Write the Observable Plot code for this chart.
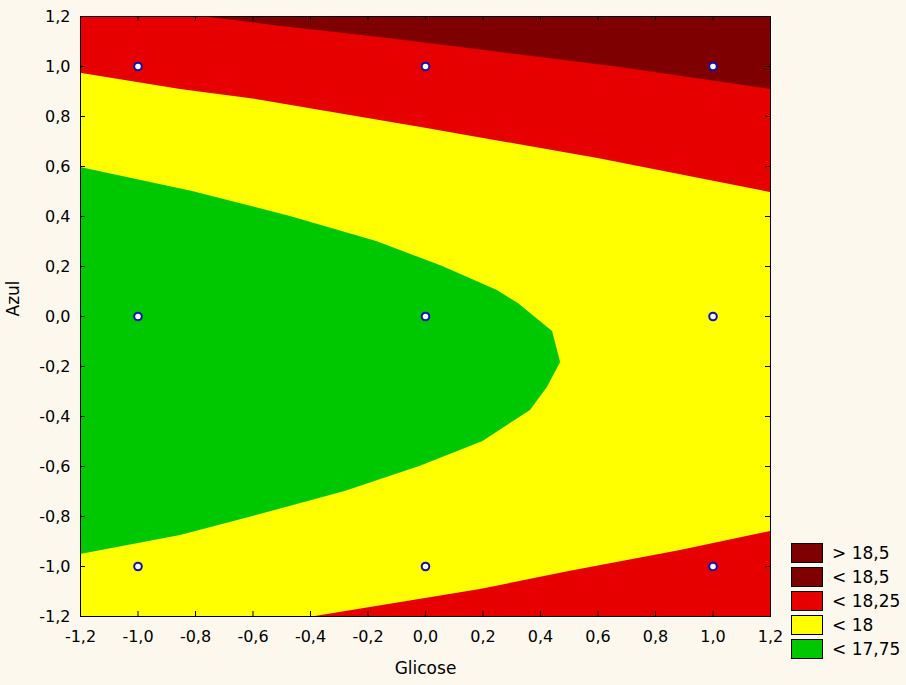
<!DOCTYPE html>
<html>
<head>
<meta charset="utf-8">
<script src="https://cdn.jsdelivr.net/npm/d3@7"></script>
<script src="https://cdn.jsdelivr.net/npm/@observablehq/plot@0.6"></script>
<style>
  html, body { margin: 0; padding: 0; background: #fdf8ee; }
  #wrap { position: relative; width: 906px; height: 685px; }
  #legend { position: absolute; left: 791px; top: 541px; font-family: "DejaVu Sans", Arial, sans-serif; font-size: 17px; color: #000; }
  .row { display: flex; align-items: center; height: 24px; }
  .sw { width: 30px; height: 18px; border: 1px solid #000; margin-right: 9px; }
</style>
</head>
<body>
<div id="wrap"><div id="legend"></div></div>
<script>
// Tick values
const xTicks = [-1.2, -1.0, -0.8, -0.6, -0.4, -0.2, 0.0, 0.2, 0.4, 0.6, 0.8, 1.0, 1.2];
const yTicks = [-1.2, -1.0, -0.8, -0.6, -0.4, -0.2, 0.0, 0.2, 0.4, 0.6, 0.8, 1.0, 1.2];

// Contour boundaries (Glicose = x, Azul = y)
const boundary18_5 = [ // dark red above
  {x: -0.78, y: 1.2}, {x: -0.5, y: 1.16}, {x: -0.157, y: 1.116}, {x: 0.2, y: 1.065},
  {x: 0.678, y: 0.996}, {x: 1.2, y: 0.908}
];
const boundary18_upper = [ // red above, yellow below
  {x: -1.2, y: 0.973}, {x: -0.852, y: 0.908}, {x: -0.6, y: 0.87}, {x: 0.0, y: 0.753},
  {x: 0.6, y: 0.632}, {x: 1.2, y: 0.496}
];
const boundary17_75 = [ // green region on the left
  {y: 0.596, x: -1.2}, {y: 0.5, x: -0.81}, {y: 0.4, x: -0.47}, {y: 0.3, x: -0.17},
  {y: 0.2, x: 0.06}, {y: 0.104, x: 0.25}, {y: 0.052, x: 0.323}, {y: -0.06, x: 0.442},
  {y: -0.184, x: 0.47}, {y: -0.284, x: 0.424}, {y: -0.376, x: 0.365}, {y: -0.5, x: 0.2},
  {y: -0.6, x: -0.02}, {y: -0.7, x: -0.28}, {y: -0.8, x: -0.6}, {y: -0.876, x: -0.852},
  {y: -0.952, x: -1.2}
];
const boundary18_lower = [ // red below
  {x: -0.383, y: -1.2}, {x: 0.191, y: -1.092}, {x: 0.5, y: -1.02},
  {x: 0.887, y: -0.936}, {x: 1.2, y: -0.86}
];

// Design points
const pointsGlicose = [-1, 0, 1, -1, 0, 1, -1, 0, 1];
const pointsAzul    = [1, 1, 1, 0, 0, 0, -1, -1, -1];

// Legend
const legendLabels = ["> 18,5", "< 18,5", "< 18,25", "< 18", "< 17,75"];
const legendColors = ["#7f0000", "#7f0000", "#e60000", "#ffff00", "#00c800"];

const designPoints = pointsGlicose.map((g, i) => ({g, a: pointsAzul[i]}));
const xMin = xTicks[0], xMax = xTicks[xTicks.length - 1];
const yMin = yTicks[0], yMax = yTicks[yTicks.length - 1];
const fmt = d => (Math.abs(d) < 1e-9 ? 0 : d).toFixed(1).replace(".", ",");

const font = "DejaVu Sans, Arial, sans-serif";

const chart = Plot.plot({
  width: 906,
  height: 685,
  marginLeft: 80,
  marginRight: 136,
  marginTop: 16,
  marginBottom: 69,
  style: {background: "transparent", fontFamily: font, fontSize: "16px", color: "#000"},
  x: {domain: [xMin, xMax]},
  y: {domain: [yMin, yMax]},
  marks: [
    Plot.frame({fill: "#ffff00", stroke: "none"}),
    Plot.areaY(boundary18_upper, {x: "x", y1: "y", y2: yMax, fill: "#e60000", clip: true}),
    Plot.areaY(boundary18_5, {x: "x", y1: "y", y2: yMax, fill: "#7f0000", clip: true}),
    Plot.areaX(boundary17_75, {y: "y", x1: xMin, x2: "x", fill: "#00c800", clip: true}),
    Plot.areaY(boundary18_lower, {x: "x", y1: yMin, y2: "y", fill: "#e60000", clip: true}),
    // inward ticks on all four sides
    Plot.tickX(xTicks, {x: d => d, insetTop: 595, stroke: "#000"}),
    Plot.tickX(xTicks, {x: d => d, insetBottom: 595, stroke: "#000"}),
    Plot.tickY(yTicks, {y: d => d, insetRight: 685, stroke: "#000"}),
    Plot.tickY(yTicks, {y: d => d, insetLeft: 685, stroke: "#000"}),
    Plot.dot(designPoints, {x: "g", y: "a", r: 3.8, fill: "#ffffff", stroke: "#1010b0", strokeWidth: 2}),
    Plot.axisX(xTicks, {anchor: "bottom", tickSize: 0, tickPadding: 14, tickFormat: fmt, label: null, fontSize: 16}),
    Plot.axisY(yTicks, {anchor: "left", tickSize: 0, tickPadding: 10, tickFormat: fmt, label: null, fontSize: 16}),
    Plot.frame({stroke: "#000", strokeWidth: 1}),
    Plot.text(["Glicose"], {text: d => d, frameAnchor: "bottom", dy: 57, fontSize: 17}),
    Plot.text(["Azul"], {text: d => d, frameAnchor: "left", dx: -67, rotate: -90, fontSize: 17})
  ]
});

document.getElementById("wrap").prepend(chart);

const legend = document.getElementById("legend");
legendLabels.forEach((lab, i) => {
  const row = document.createElement("div");
  row.className = "row";
  const sw = document.createElement("div");
  sw.className = "sw";
  sw.style.background = legendColors[i];
  const t = document.createElement("span");
  t.textContent = lab;
  row.appendChild(sw);
  row.appendChild(t);
  legend.appendChild(row);
});
</script>
</body>
</html>
